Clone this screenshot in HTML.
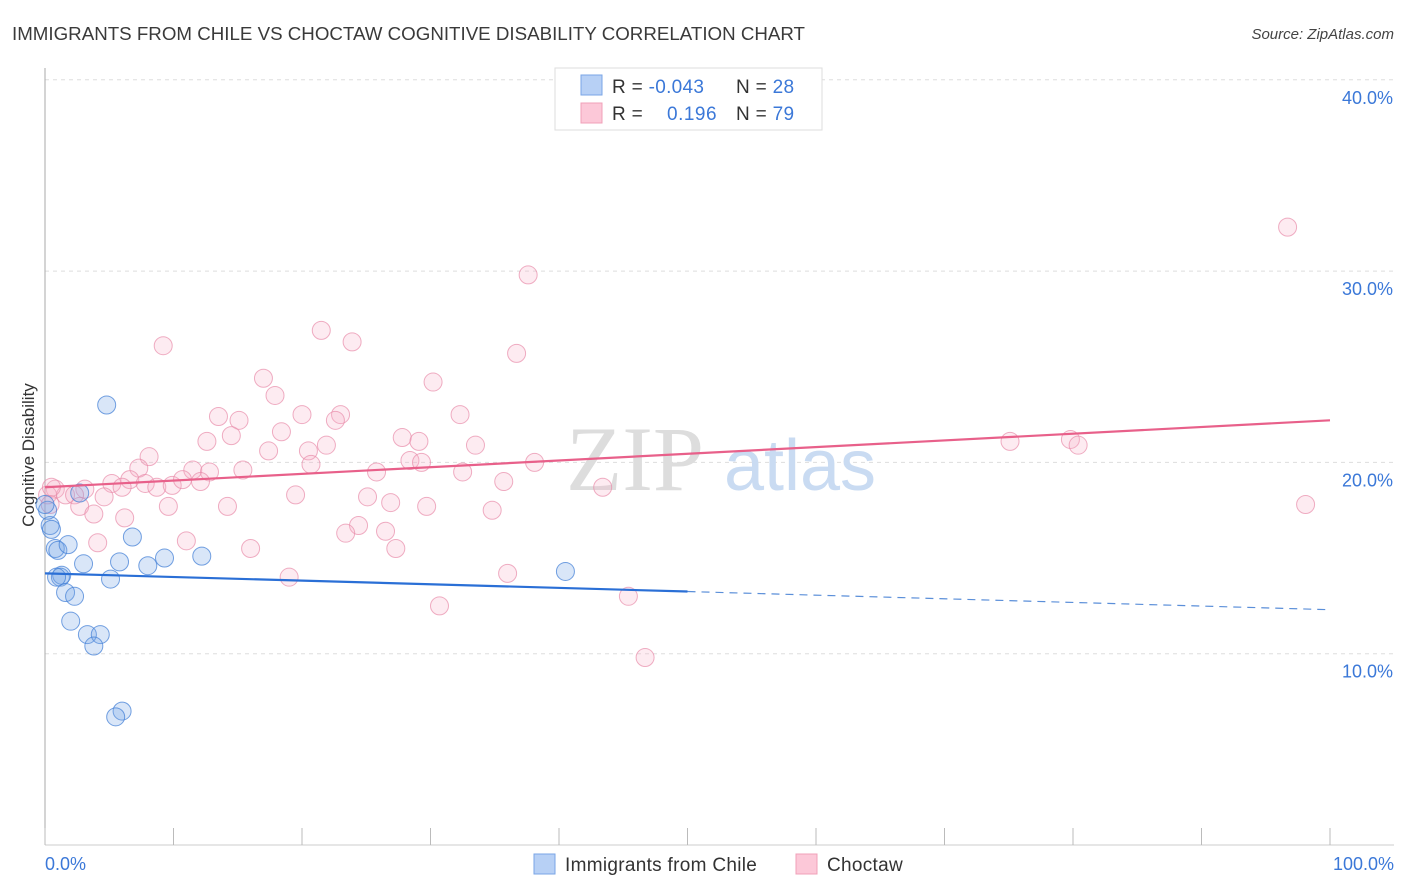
<!DOCTYPE html>
<html><head><meta charset="utf-8"><style>
body{margin:0;background:#fff;font-family:"Liberation Sans",sans-serif;}
svg{display:block}
</style></head><body>
<svg id="chart" width="1406" height="892" xmlns="http://www.w3.org/2000/svg">
<text x="12" y="40" font-size="18" fill="#3a3a3a" textLength="793" lengthAdjust="spacingAndGlyphs">IMMIGRANTS FROM CHILE VS CHOCTAW COGNITIVE DISABILITY CORRELATION CHART</text>
<text x="1394" y="39" font-size="15" fill="#444" text-anchor="end" font-style="italic">Source: ZipAtlas.com</text>
<g id="grid"></g>
<g>
<text x="635" y="490" font-size="92" fill="#ddd" font-family="Liberation Serif,serif" text-anchor="middle">ZIP</text>
<text x="800" y="490" font-size="72" fill="#c9dbf2" text-anchor="middle">atlas</text>
</g>
<line x1="45" y1="68" x2="45" y2="845" stroke="#aaa" stroke-width="1"/>
<line x1="45" y1="845" x2="1394" y2="845" stroke="#ccc" stroke-width="1"/>
<g id="xticks"></g>
<g id="ylabels"></g>
<text x="45" y="870" font-size="18" fill="#3b78d8">0.0%</text>
<text x="1394" y="870" font-size="18" fill="#3b78d8" text-anchor="end">100.0%</text>
<text transform="translate(34,455) rotate(-90)" font-size="17" fill="#333" text-anchor="middle">Cognitive Disability</text>
<g id="pink"></g>
<g id="blue"></g>
<g id="lines"></g>
<g>
<rect x="555" y="68" width="267" height="62" fill="#fff" stroke="#ddd"/>
<rect x="581" y="75" width="21" height="20" fill="#b7d0f5" stroke="#7aa5e6"/>
<rect x="581" y="103" width="21" height="20" fill="#fcc8d8" stroke="#f0a0b8"/>
<text x="612" y="93" font-size="19" fill="#333" letter-spacing="0.3">R = <tspan fill="#3b78d8">-0.043</tspan></text>
<text x="736" y="93" font-size="19" fill="#333" letter-spacing="0.3">N = <tspan fill="#3b78d8">28</tspan></text>
<text x="612" y="120" font-size="19" fill="#333" letter-spacing="0.3">R = </text>
<text x="667" y="120" font-size="19" fill="#3b78d8" letter-spacing="0.5">0.196</text>
<text x="736" y="120" font-size="19" fill="#333" letter-spacing="0.3">N = <tspan fill="#3b78d8">79</tspan></text>
</g>
<g>
<rect x="534" y="854" width="21" height="20" fill="#b7d0f5" stroke="#7aa5e6"/>
<text x="565" y="871" font-size="19" fill="#333" letter-spacing="0.3">Immigrants from Chile</text>
</g>
<g>
<rect x="796" y="854" width="21" height="20" fill="#fcc8d8" stroke="#f0a0b8"/>
<text x="827" y="871" font-size="19" fill="#333" letter-spacing="0.3">Choctaw</text>
</g>
</svg>
<script>
const yTicks=[10,20,30,40];
const xTickVals=[0,10,20,30,40,50,60,70,80,90,100];
const blueX=[4.8,0.4,0.5,0.8,1.0,1.8,3.0,1.3,1.2,1.6,2.3,5.1,5.8,6.8,8.0,9.3,12.2,3.3,4.3,3.8,2.0,6.0,5.5,40.5,2.7,0.2,0.0,0.9];
const blueY=[23.0,16.7,16.5,15.5,15.4,15.7,14.7,14.1,14.0,13.2,13.0,13.9,14.8,16.1,14.6,15.0,15.1,11.0,11.0,10.4,11.7,7.0,6.7,14.3,18.4,17.5,17.8,14.0];
const pinkX=[37.6,96.7,9.2,21.5,23.9,36.7,17.0,30.2,17.9,13.5,15.1,20.0,23.0,22.6,32.3,14.5,12.6,18.4,17.4,21.9,27.8,29.1,33.5,20.5,8.1,7.3,11.5,12.8,15.4,20.7,25.8,28.4,29.3,32.5,38.1,75.1,79.8,80.4,6.6,5.2,7.8,8.7,9.9,10.7,12.1,6.0,4.6,3.1,0.8,1.6,2.3,9.6,14.2,19.5,25.1,26.9,29.7,34.8,35.7,43.4,98.1,2.7,3.8,6.2,24.4,23.4,26.5,11.0,4.1,16.0,27.3,19.0,36.0,30.7,45.4,46.7,0.2,0.4,0.5];
const pinkY=[29.8,32.3,26.1,26.9,26.3,25.7,24.4,24.2,23.5,22.4,22.2,22.5,22.5,22.2,22.5,21.4,21.1,21.6,20.6,20.9,21.3,21.1,20.9,20.6,20.3,19.7,19.6,19.5,19.6,19.9,19.5,20.1,20.0,19.5,20.0,21.1,21.2,20.9,19.1,18.9,18.9,18.7,18.8,19.1,19.0,18.7,18.2,18.6,18.6,18.3,18.3,17.7,17.7,18.3,18.2,17.9,17.7,17.5,19.0,18.7,17.8,17.7,17.3,17.1,16.7,16.3,16.4,15.9,15.8,15.5,15.5,14.0,14.2,12.5,13.0,9.8,18.3,17.8,18.7];
const blueTrend=[14.2,12.3];
const pinkTrend=[18.7,22.2];
const NS="http://www.w3.org/2000/svg";
const sx=v=>45+v*12.85;
const sy=v=>845-v*19.13;
function mk(tag,parent,attrs){const e=document.createElementNS(NS,tag);for(const k in attrs)e.setAttribute(k,attrs[k]);document.getElementById(parent).appendChild(e);return e;}
yTicks.forEach(t=>{
 const l=mk('line','grid',{x1:45,x2:1394,y1:sy(t),y2:sy(t),stroke:'#ddd','stroke-dasharray':'4,4'});
 
 
 const tx=mk('text','ylabels',{x:1393,y:sy(t)+24,'font-size':18,fill:'#3b78d8','text-anchor':'end'});
 tx.textContent=t.toFixed(1)+'%';
 
 
});
xTickVals.forEach(t=>{
 const l=mk('line','xticks',{x1:sx(t),x2:sx(t),y1:828,y2:845,stroke:'#bbb'});
 
 
});
pinkX.forEach((x,i)=>{
 const c=mk('circle','pink',{cx:sx(x),cy:sy(pinkY[i]),r:9,fill:'rgba(248,175,200,0.25)',stroke:'rgba(232,140,170,0.7)','stroke-width':1});
 
 
});
blueX.forEach((x,i)=>{
 const c=mk('circle','blue',{cx:sx(x),cy:sy(blueY[i]),r:9,fill:'rgba(120,165,230,0.28)',stroke:'rgba(70,130,215,0.75)','stroke-width':1});
 
 
});
const bAt=x=>blueTrend[0]+(blueTrend[1]-blueTrend[0])*x/100;
let l1=mk('line','lines',{x1:sx(0),y1:sy(bAt(0)),x2:sx(50),y2:sy(bAt(50)),stroke:'#2a6fd6','stroke-width':2.2});


let l2=mk('line','lines',{x1:sx(50),y1:sy(bAt(50)),x2:sx(100),y2:sy(bAt(100)),stroke:'#5b8fd9','stroke-width':1.2,'stroke-dasharray':'8,6'});


let l3=mk('line','lines',{x1:sx(0),y1:sy(pinkTrend[0]),x2:sx(100),y2:sy(pinkTrend[1]),stroke:'#e8608a','stroke-width':2.2});


</script>
</body></html>
